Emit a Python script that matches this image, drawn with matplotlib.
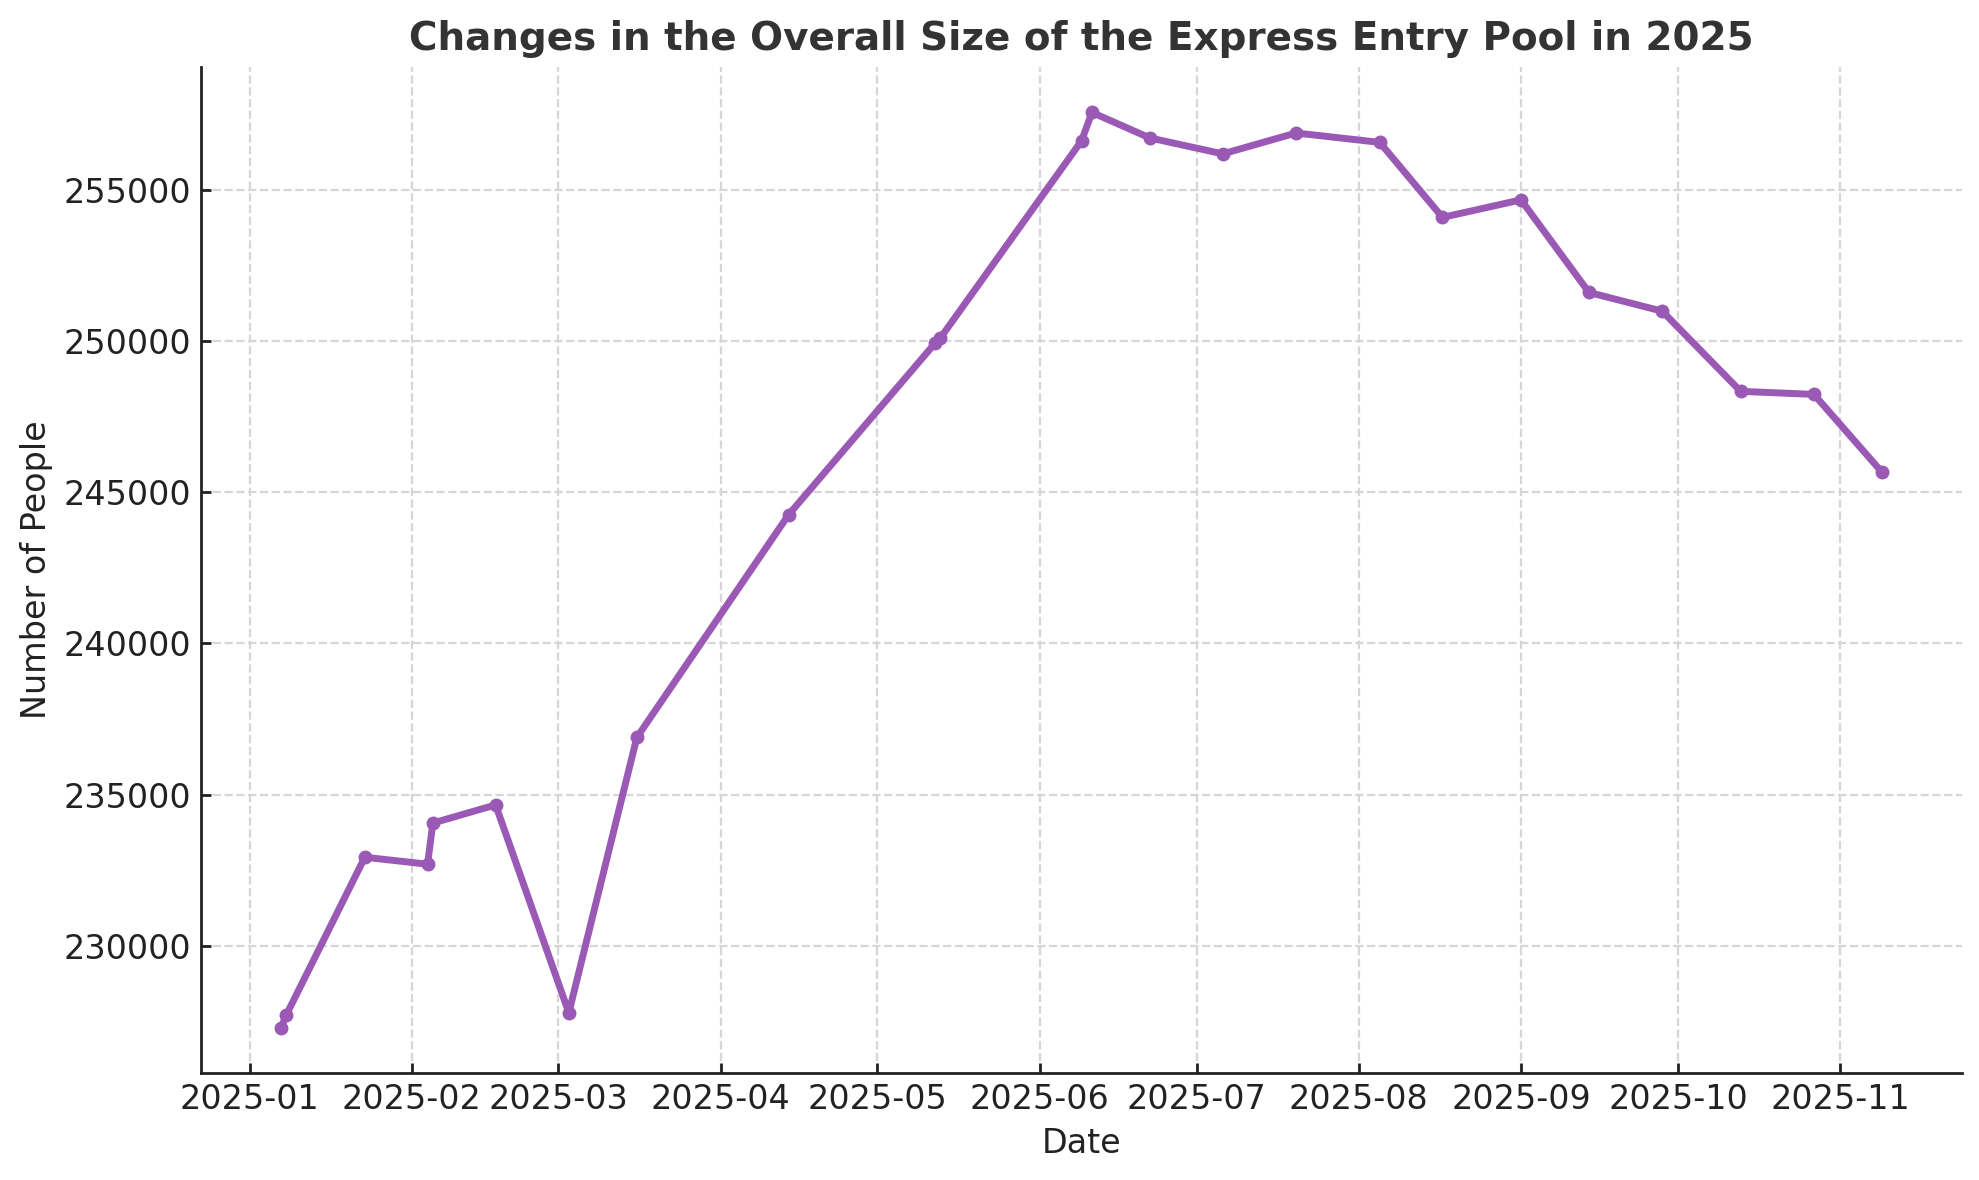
import matplotlib
matplotlib.use("Agg")
import matplotlib.pyplot as plt
import matplotlib.dates as mdates
import pandas as pd

# pool size readings taken off the chart
dates = ["2025-01-07", "2025-01-08", "2025-01-23", "2025-02-04", "2025-02-05",
         "2025-02-17", "2025-03-03", "2025-03-16", "2025-04-14", "2025-05-12",
         "2025-05-13", "2025-06-09", "2025-06-11", "2025-06-22", "2025-07-06",
         "2025-07-20", "2025-08-05", "2025-08-17", "2025-09-01", "2025-09-14",
         "2025-09-28", "2025-10-13", "2025-10-27", "2025-11-09"]
pool_size = [227300, 227720, 232930, 232700, 234060,
             234660, 227790, 236890, 244250, 249920,
             250090, 256610, 257550, 256710, 256180,
             256870, 256560, 254080, 254660, 251600,
             250980, 248330, 248230, 245660]

x = pd.to_datetime(dates)

fig, ax = plt.subplots(figsize=(9.895, 5.9), dpi=200)
fig.subplots_adjust(left=0.1016, right=0.9914, top=0.9435, bottom=0.0904)

ax.plot(x, pool_size, color="#9b59b6", linewidth=2.5, marker="o", markersize=4)

ax.set_title("Changes in the Overall Size of the Express Entry Pool in 2025",
             fontsize=14, fontweight="bold", color="#333333")
ax.set_xlabel("Date", fontsize=12, color="#222222")
ax.set_ylabel("Number of People", fontsize=12, color="#222222")

ax.xaxis.set_major_locator(mdates.MonthLocator())
ax.xaxis.set_major_formatter(mdates.DateFormatter("%Y-%m"))
ax.ticklabel_format(axis="y", style="plain", useOffset=False)

ax.grid(True, linestyle="--", color="#d6d6d6", linewidth=0.8)
ax.set_axisbelow(True)
for side in ["top", "right"]:
    ax.spines[side].set_visible(False)
for side in ["left", "bottom"]:
    ax.spines[side].set_color("#222222")
    ax.spines[side].set_linewidth(1.0)
ax.tick_params(direction="in", length=3.5, width=1.0, labelsize=12,
               colors="#222222")

fig.savefig("out.png", dpi=200)
